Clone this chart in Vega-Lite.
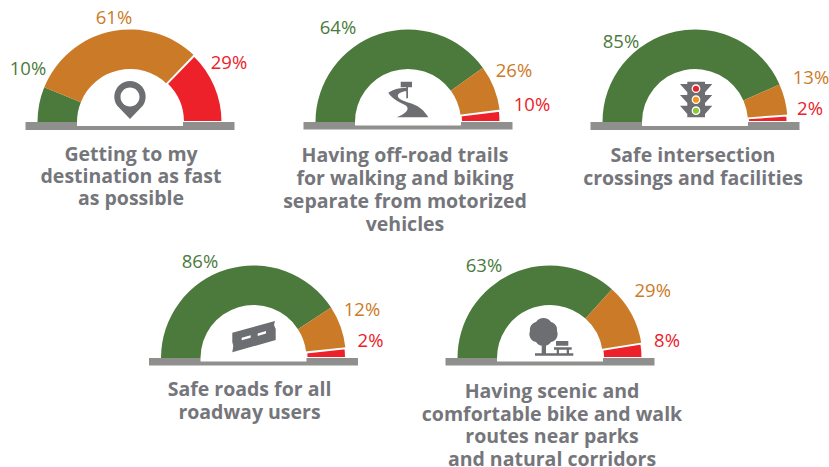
{"$schema":"https://vega.github.io/schema/vega-lite/v6.json","background":"white","padding":{"left":5,"top":0,"right":0,"bottom":0},"config":{"view":{"stroke":null},"axis":{"disable":true}},
"datasets":{"gauges":[
{"gauge":"g1","rating":"green","rank":1,"label":"10%","sweep":22},{"gauge":"g1","rating":"orange","rank":2,"label":"61%","sweep":112},{"gauge":"g1","rating":"red","rank":3,"label":"29%","sweep":46},
{"gauge":"g2","rating":"green","rank":1,"label":"64%","sweep":144},{"gauge":"g2","rating":"orange","rank":2,"label":"26%","sweep":29},{"gauge":"g2","rating":"red","rank":3,"label":"10%","sweep":7},
{"gauge":"g3","rating":"green","rank":1,"label":"85%","sweep":156},{"gauge":"g3","rating":"orange","rank":2,"label":"13%","sweep":20},{"gauge":"g3","rating":"red","rank":3,"label":"2%","sweep":4},
{"gauge":"g4","rating":"green","rank":1,"label":"86%","sweep":147},{"gauge":"g4","rating":"orange","rank":2,"label":"12%","sweep":27},{"gauge":"g4","rating":"red","rank":3,"label":"2%","sweep":6},
{"gauge":"g5","rating":"green","rank":1,"label":"63%","sweep":132},{"gauge":"g5","rating":"orange","rank":2,"label":"29%","sweep":39},{"gauge":"g5","rating":"red","rank":3,"label":"8%","sweep":9}
]},
"vconcat":[
{"spacing":20,"bounds":"flush","hconcat":[
{"width":250,"height":244,"layer":[
{"data":{"name":"gauges"},"transform":[{"filter":"datum.gauge==='g1'"}],"mark":{"type":"arc","outerRadius":92.5,"innerRadius":53,"strokeWidth":2},"encoding":{"theta":{"field":"sweep","type":"quantitative","stack":true,"scale":{"domain":[0,180],"range":[-1.5708,1.5708]}},"order":{"field":"rank"},"color":{"field":"rating","legend":null,"scale":{"domain":["green","orange","red"],"range":["#4c7a3d","#cb7b28","#ed2129"]}},"stroke":{"condition":{"test":"datum.rating==='red'","value":"white"},"value":null}}},
{"data":{"values":[{"part":"base"}]},"mark":{"type":"rect","fill":"#8f8f8d"},"encoding":{"x":{"datum":-104.5,"type":"quantitative","scale":{"domain":[-125,125],"nice":false,"zero":false},"axis":null},"x2":{"datum":104.5},"y":{"datum":0,"type":"quantitative","scale":{"domain":[-122,122],"reverse":true,"nice":false,"zero":false},"axis":null},"y2":{"datum":8}}},
{"data":{"values":[{"part":"inner"}]},"mark":{"type":"rect","fill":"white"},"encoding":{"x":{"datum":-53,"type":"quantitative"},"x2":{"datum":53},"y":{"datum":0,"type":"quantitative"},"y2":{"datum":4}}},
{"data":{"values":[{"icon":"pin"}]},"mark":{"type":"point","filled":true,"opacity":1,"size":4,"fill":"#6d6e71","stroke":null,"shape":"M0,-3 L-13,-16.5 A15.7,15.7 0 1 1 13,-16.5 Z M0,-34.5 A9.5,9.5 0 1 0 0,-15.5 A9.5,9.5 0 1 0 0,-34.5 Z"},"encoding":{"x":{"datum":0,"type":"quantitative"},"y":{"datum":0,"type":"quantitative"}}},
{"data":{"name":"gauges"},"transform":[{"filter":"datum.gauge==='g1'"}],"mark":{"type":"text","font":"Open Sans","fontSize":18.5,"baseline":"middle","dx":{"expr":"datum.rating==='green'?-102:datum.rating==='orange'?-16:99"},"dy":{"expr":"datum.rating==='green'?-53:datum.rating==='orange'?-104:-59"}},"encoding":{"x":{"datum":0,"type":"quantitative"},"y":{"datum":0,"type":"quantitative"},"text":{"field":"label"},"color":{"field":"rating","legend":null}}},
{"data":{"values":[{"caption":"Getting to my\ndestination as fast\nas possible"}]},"mark":{"type":"text","font":"Open Sans","fontWeight":"bold","fontSize":19.5,"lineHeight":22,"lineBreak":"\n","baseline":"top","fill":"#75767b","dx":1,"dy":24},"encoding":{"x":{"datum":0,"type":"quantitative"},"y":{"datum":0,"type":"quantitative"},"text":{"field":"caption"}}}
]},
{"width":266,"height":244,"layer":[
{"data":{"name":"gauges"},"transform":[{"filter":"datum.gauge==='g2'"}],"mark":{"type":"arc","outerRadius":92.5,"innerRadius":53,"strokeWidth":2},"encoding":{"theta":{"field":"sweep","type":"quantitative","stack":true,"scale":{"domain":[0,180],"range":[-1.5708,1.5708]}},"order":{"field":"rank"},"color":{"field":"rating","legend":null,"scale":{"domain":["green","orange","red"],"range":["#4c7a3d","#cb7b28","#ed2129"]}},"stroke":{"condition":{"test":"datum.rating==='red'","value":"white"},"value":null}}},
{"data":{"values":[{"part":"base"}]},"mark":{"type":"rect","fill":"#8f8f8d"},"encoding":{"x":{"datum":-104.5,"type":"quantitative","scale":{"domain":[-133,133],"nice":false,"zero":false},"axis":null},"x2":{"datum":104.5},"y":{"datum":0,"type":"quantitative","scale":{"domain":[-122,122],"reverse":true,"nice":false,"zero":false},"axis":null},"y2":{"datum":7.5}}},
{"data":{"values":[{"part":"inner"}]},"mark":{"type":"rect","fill":"white"},"encoding":{"x":{"datum":-53,"type":"quantitative"},"x2":{"datum":53},"y":{"datum":0,"type":"quantitative"},"y2":{"datum":3.5}}},
{"data":{"values":[{"icon":"trail"}]},"mark":{"type":"point","filled":true,"opacity":1,"size":4,"fill":"#6d6e71","stroke":null,"shape":"M-19.7,-29.3 C-13,-33.7 -6.3,-34.3 -0.7,-33.7 L0.3,-31.3 C-11.3,-30.3 -13,-25.3 -6.3,-22 C2,-18 12,-18.7 20.3,-4.7 L-11.3,-4.7 C-1.3,-8.7 2.7,-13.7 -3,-17 C-9.7,-20.3 -16.3,-23.7 -19.7,-29.3 Z M-7.3,-40.3 L4,-40.3 L4,-34.7 L0,-34.7 L0,-23.7 L-1.7,-23.7 L-1.7,-34.7 L-7.3,-34.7 Z"},"encoding":{"x":{"datum":0,"type":"quantitative"},"y":{"datum":0,"type":"quantitative"}}},
{"data":{"name":"gauges"},"transform":[{"filter":"datum.gauge==='g2'"}],"mark":{"type":"text","font":"Open Sans","fontSize":18.5,"baseline":"middle","dx":{"expr":"datum.rating==='green'?-70:datum.rating==='orange'?106:124"},"dy":{"expr":"datum.rating==='green'?-94:datum.rating==='orange'?-51:-17"}},"encoding":{"x":{"datum":0,"type":"quantitative"},"y":{"datum":0,"type":"quantitative"},"text":{"field":"label"},"color":{"field":"rating","legend":null}}},
{"data":{"values":[{"caption":"Having off-road trails\nfor walking and biking\nseparate from motorized\nvehicles"}]},"mark":{"type":"text","font":"Open Sans","fontWeight":"bold","fontSize":19.5,"lineHeight":23,"lineBreak":"\n","baseline":"top","fill":"#75767b","dx":-3,"dy":25},"encoding":{"x":{"datum":0,"type":"quantitative"},"y":{"datum":0,"type":"quantitative"},"text":{"field":"caption"}}}
]},
{"width":268,"height":244,"layer":[
{"data":{"name":"gauges"},"transform":[{"filter":"datum.gauge==='g3'"}],"mark":{"type":"arc","outerRadius":92.5,"innerRadius":53,"strokeWidth":2},"encoding":{"theta":{"field":"sweep","type":"quantitative","stack":true,"scale":{"domain":[0,180],"range":[-1.5708,1.5708]}},"order":{"field":"rank"},"color":{"field":"rating","legend":null,"scale":{"domain":["green","orange","red"],"range":["#4c7a3d","#cb7b28","#ed2129"]}},"stroke":{"condition":{"test":"datum.rating==='red'","value":"white"},"value":null}}},
{"data":{"values":[{"part":"base"}]},"mark":{"type":"rect","fill":"#8f8f8d"},"encoding":{"x":{"datum":-104.5,"type":"quantitative","scale":{"domain":[-134,134],"nice":false,"zero":false},"axis":null},"x2":{"datum":104.5},"y":{"datum":0,"type":"quantitative","scale":{"domain":[-122,122],"reverse":true,"nice":false,"zero":false},"axis":null},"y2":{"datum":8}}},
{"data":{"values":[{"part":"inner"}]},"mark":{"type":"rect","fill":"white"},"encoding":{"x":{"datum":-53,"type":"quantitative"},"x2":{"datum":53},"y":{"datum":0,"type":"quantitative"},"y2":{"datum":4}}},
{"data":{"values":[{"icon":"signal"}]},"mark":{"type":"point","filled":true,"opacity":1,"size":4,"fill":"#6d6e71","stroke":null,"shape":"M-7.7,-40.3 L10,-40.3 L10,-38 L17.3,-38 L10,-29.7 L10,-27 L17.3,-27 L10,-19 L10,-16.3 L17.3,-16.3 L10,-8 L10,-4.7 L-7.7,-4.7 L-7.7,-8 L-15,-16.3 L-7.7,-16.3 L-7.7,-19 L-15,-27 L-7.7,-27 L-7.7,-29.7 L-15,-38 L-7.7,-38 Z"},"encoding":{"x":{"datum":0,"type":"quantitative"},"y":{"datum":0,"type":"quantitative"}}},
{"data":{"values":[{"icon":"red lamp"}]},"mark":{"type":"point","filled":true,"opacity":1,"size":4,"fill":"#ed2129","stroke":"white","strokeWidth":1.3,"shape":"M1,-37 A3.7,3.7 0 1 1 1,-29.6 A3.7,3.7 0 1 1 1,-37 Z"},"encoding":{"x":{"datum":0,"type":"quantitative"},"y":{"datum":0,"type":"quantitative"}}},
{"data":{"values":[{"icon":"amber lamp"}]},"mark":{"type":"point","filled":true,"opacity":1,"size":4,"fill":"#f7941d","stroke":"white","strokeWidth":1.3,"shape":"M1,-26 A3.7,3.7 0 1 1 1,-18.6 A3.7,3.7 0 1 1 1,-26 Z"},"encoding":{"x":{"datum":0,"type":"quantitative"},"y":{"datum":0,"type":"quantitative"}}},
{"data":{"values":[{"icon":"green lamp"}]},"mark":{"type":"point","filled":true,"opacity":1,"size":4,"fill":"#8dc63f","stroke":"white","strokeWidth":1.3,"shape":"M1,-15 A3.7,3.7 0 1 1 1,-7.6 A3.7,3.7 0 1 1 1,-15 Z"},"encoding":{"x":{"datum":0,"type":"quantitative"},"y":{"datum":0,"type":"quantitative"}}},
{"data":{"name":"gauges"},"transform":[{"filter":"datum.gauge==='g3'"}],"mark":{"type":"text","font":"Open Sans","fontSize":18.5,"baseline":"middle","dx":{"expr":"datum.rating==='green'?-74:datum.rating==='orange'?116:115"},"dy":{"expr":"datum.rating==='green'?-80:datum.rating==='orange'?-44:-13"}},"encoding":{"x":{"datum":0,"type":"quantitative"},"y":{"datum":0,"type":"quantitative"},"text":{"field":"label"},"color":{"field":"rating","legend":null}}},
{"data":{"values":[{"caption":"Safe intersection\ncrossings and facilities"}]},"mark":{"type":"text","font":"Open Sans","fontWeight":"bold","fontSize":19.5,"lineHeight":22.5,"lineBreak":"\n","baseline":"top","fill":"#75767b","dx":-2,"dy":25},"encoding":{"x":{"datum":0,"type":"quantitative"},"y":{"datum":0,"type":"quantitative"},"text":{"field":"caption"}}}
]}
]},
{"spacing":20,"bounds":"flush","hconcat":[
{"width":90,"height":218,"data":{"values":[{"spacer":1}]},"mark":{"type":"text","opacity":0},"encoding":{"text":{"field":"spacer"}}},
{"width":277,"height":218,"layer":[
{"data":{"name":"gauges"},"transform":[{"filter":"datum.gauge==='g4'"}],"mark":{"type":"arc","outerRadius":92.5,"innerRadius":53,"strokeWidth":2},"encoding":{"theta":{"field":"sweep","type":"quantitative","stack":true,"scale":{"domain":[0,180],"range":[-1.5708,1.5708]}},"order":{"field":"rank"},"color":{"field":"rating","legend":null,"scale":{"domain":["green","orange","red"],"range":["#4c7a3d","#cb7b28","#ed2129"]}},"stroke":{"condition":{"test":"datum.rating==='red'","value":"white"},"value":null}}},
{"data":{"values":[{"part":"base"}]},"mark":{"type":"rect","fill":"#8f8f8d"},"encoding":{"x":{"datum":-104.5,"type":"quantitative","scale":{"domain":[-138.5,138.5],"nice":false,"zero":false},"axis":null},"x2":{"datum":104.5},"y":{"datum":0,"type":"quantitative","scale":{"domain":[-109,109],"reverse":true,"nice":false,"zero":false},"axis":null},"y2":{"datum":7.5}}},
{"data":{"values":[{"part":"inner"}]},"mark":{"type":"rect","fill":"white"},"encoding":{"x":{"datum":-53,"type":"quantitative"},"x2":{"datum":53},"y":{"datum":0,"type":"quantitative"},"y2":{"datum":3.5}}},
{"data":{"values":[{"icon":"road"}]},"mark":{"type":"point","filled":true,"opacity":1,"size":4,"fill":"#6d6e71","stroke":null,"shape":"M-21.2,-25.3 L21.5,-37 L20.5,-33 L22.2,-29 L22.2,-18 L-21.2,-5.7 L-20.2,-12 L-21.2,-16 Z M-11.8,-17.8 L-2.8,-20.3 L-2.8,-22.8 L-11.8,-20.3 Z M4.2,-22.1 L12.5,-24.4 L12.5,-26.9 L4.2,-24.6 Z"},"encoding":{"x":{"datum":0,"type":"quantitative"},"y":{"datum":0,"type":"quantitative"}}},
{"data":{"name":"gauges"},"transform":[{"filter":"datum.gauge==='g4'"}],"mark":{"type":"text","font":"Open Sans","fontSize":18.5,"baseline":"middle","dx":{"expr":"datum.rating==='green'?-53.5:datum.rating==='orange'?108.5:117"},"dy":{"expr":"datum.rating==='green'?-96:datum.rating==='orange'?-48:-17"}},"encoding":{"x":{"datum":0,"type":"quantitative"},"y":{"datum":0,"type":"quantitative"},"text":{"field":"label"},"color":{"field":"rating","legend":null}}},
{"data":{"values":[{"caption":"Safe roads for all\nroadway users"}]},"mark":{"type":"text","font":"Open Sans","fontWeight":"bold","fontSize":19.5,"lineHeight":22.5,"lineBreak":"\n","baseline":"top","fill":"#75767b","dx":-4,"dy":23},"encoding":{"x":{"datum":0,"type":"quantitative"},"y":{"datum":0,"type":"quantitative"},"text":{"field":"caption"}}}
]},
{"width":276,"height":218,"layer":[
{"data":{"name":"gauges"},"transform":[{"filter":"datum.gauge==='g5'"}],"mark":{"type":"arc","outerRadius":92.5,"innerRadius":53,"strokeWidth":2},"encoding":{"theta":{"field":"sweep","type":"quantitative","stack":true,"scale":{"domain":[0,180],"range":[-1.5708,1.5708]}},"order":{"field":"rank"},"color":{"field":"rating","legend":null,"scale":{"domain":["green","orange","red"],"range":["#4c7a3d","#cb7b28","#ed2129"]}},"stroke":{"condition":{"test":"datum.rating==='red'","value":"white"},"value":null}}},
{"data":{"values":[{"part":"base"}]},"mark":{"type":"rect","fill":"#8f8f8d"},"encoding":{"x":{"datum":-104.5,"type":"quantitative","scale":{"domain":[-138,138],"nice":false,"zero":false},"axis":null},"x2":{"datum":104.5},"y":{"datum":0,"type":"quantitative","scale":{"domain":[-109,109],"reverse":true,"nice":false,"zero":false},"axis":null},"y2":{"datum":7.5}}},
{"data":{"values":[{"part":"inner"}]},"mark":{"type":"rect","fill":"white"},"encoding":{"x":{"datum":-53,"type":"quantitative"},"x2":{"datum":53},"y":{"datum":0,"type":"quantitative"},"y2":{"datum":3.5}}},
{"data":{"values":[{"icon":"park"}]},"mark":{"type":"point","filled":true,"opacity":1,"size":4,"fill":"#6d6e71","stroke":null,"shape":"M-20,-27 A8,8 0 0 1 -14,-36 A9,9 0 0 1 1,-36 A8,8 0 0 1 7,-27 A8,8 0 0 1 1,-16 A9,9 0 0 1 -14,-16 A8,8 0 0 1 -20,-27 Z M-8.3,-18 L-4,-18 L-4,-4.7 L-8.3,-4.7 Z M-15,-4.7 L23.3,-4.7 L23.3,-2.3 L-15,-2.3 Z M4,-10.7 L21.7,-10.7 L21.7,-8.3 L19,-8.3 L19,-4.7 L16.7,-4.7 L16.7,-8.3 L9,-8.3 L9,-4.7 L6.7,-4.7 L6.7,-8.3 L4,-8.3 Z M6,-17 L18.3,-17 L18.3,-12.3 L6,-12.3 Z"},"encoding":{"x":{"datum":0,"type":"quantitative"},"y":{"datum":0,"type":"quantitative"}}},
{"data":{"name":"gauges"},"transform":[{"filter":"datum.gauge==='g5'"}],"mark":{"type":"text","font":"Open Sans","fontSize":18.5,"baseline":"middle","dx":{"expr":"datum.rating==='green'?-66:datum.rating==='orange'?102.7:117"},"dy":{"expr":"datum.rating==='green'?-92:datum.rating==='orange'?-67:-17"}},"encoding":{"x":{"datum":0,"type":"quantitative"},"y":{"datum":0,"type":"quantitative"},"text":{"field":"label"},"color":{"field":"rating","legend":null}}},
{"data":{"values":[{"caption":"Having scenic and\ncomfortable bike and walk\nroutes near parks\nand natural corridors"}]},"mark":{"type":"text","font":"Open Sans","fontWeight":"bold","fontSize":19.5,"lineHeight":22.5,"lineBreak":"\n","baseline":"top","fill":"#75767b","dx":2,"dy":25},"encoding":{"x":{"datum":0,"type":"quantitative"},"y":{"datum":0,"type":"quantitative"},"text":{"field":"caption"}}}
]}
]}
],"spacing":5}
